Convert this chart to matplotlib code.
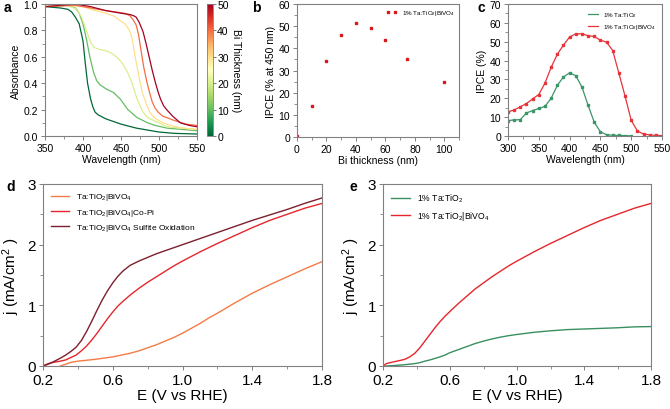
import numpy as np
import matplotlib
matplotlib.use("Agg")
import matplotlib.pyplot as plt
from matplotlib.ticker import MultipleLocator, AutoMinorLocator

plt.rcParams['font.family'] = ['Liberation Sans', 'DejaVu Sans']
plt.rcParams['mathtext.default'] = 'regular'

# ---- panel a: absorbance vs wavelength for several Bi thicknesses
bi_thick = [0, 10, 20, 30, 40, 50]
abs_wl = [
    [350, 370, 380, 385, 390, 395, 400, 403, 406, 410, 413, 416, 420, 425, 430, 440, 450, 460, 470, 480, 490, 500, 520, 550],
    [350, 380, 390, 395, 400, 405, 409, 414, 418, 422, 427, 431, 440, 449, 459, 465, 471, 478, 485, 495, 510, 550],
    [350, 380, 392, 398, 402, 405, 408, 411, 415, 422, 431, 438, 444, 449, 453, 458, 464, 470, 475, 479, 485, 492, 500, 510, 550],
    [350, 380, 400, 410, 430, 440, 445, 450, 455, 459, 462, 465, 468, 472, 475, 478, 481, 484, 488, 492, 496, 505, 515, 530, 550],
    [350, 390, 410, 430, 455, 462, 466, 470, 473, 476, 480, 484, 488, 491, 495, 499, 505, 510, 519, 535, 550],
    [350, 390, 410, 430, 450, 462, 467, 470, 474, 479, 483, 487, 491, 495, 499, 502, 506, 510, 518, 528, 540, 550],
]
abs_val = [
    [0.98, 0.97, 0.96, 0.94, 0.90, 0.85, 0.72, 0.55, 0.40, 0.28, 0.22, 0.18, 0.16, 0.145, 0.13, 0.11, 0.09, 0.075, 0.06, 0.05, 0.04, 0.03, 0.02, 0.015],
    [0.98, 0.99, 0.97, 0.93, 0.85, 0.72, 0.60, 0.48, 0.42, 0.39, 0.37, 0.355, 0.33, 0.28, 0.20, 0.17, 0.14, 0.12, 0.10, 0.08, 0.06, 0.04],
    [0.98, 0.99, 0.96, 0.90, 0.84, 0.79, 0.74, 0.70, 0.67, 0.655, 0.645, 0.625, 0.60, 0.57, 0.54, 0.49, 0.41, 0.30, 0.23, 0.18, 0.14, 0.12, 0.10, 0.07, 0.05],
    [0.98, 0.99, 0.98, 0.96, 0.93, 0.91, 0.89, 0.87, 0.85, 0.82, 0.79, 0.73, 0.62, 0.50, 0.41, 0.33, 0.28, 0.23, 0.18, 0.15, 0.13, 0.10, 0.08, 0.06, 0.05],
    [0.98, 0.99, 0.97, 0.95, 0.93, 0.91, 0.88, 0.84, 0.77, 0.66, 0.52, 0.41, 0.32, 0.26, 0.21, 0.18, 0.15, 0.14, 0.12, 0.09, 0.08],
    [0.98, 1.00, 0.98, 0.95, 0.93, 0.92, 0.91, 0.90, 0.86, 0.79, 0.70, 0.60, 0.50, 0.41, 0.33, 0.28, 0.23, 0.20, 0.15, 0.10, 0.08, 0.07],
]

# ---- panel b: IPCE at 450 nm vs Bi thickness
b_thick = [0, 10, 20, 30, 40, 50, 60, 75, 100]
b_ipce = [0.3, 14.0, 34.5, 46.0, 51.5, 49.2, 43.8, 35.3, 24.7]

# ---- panel c: IPCE spectra
c_wl = [300, 310, 320, 330, 340, 350, 360, 370, 380, 390, 400, 410, 420, 430, 440,
        450, 460, 470, 480, 490, 500, 510, 520, 530, 540, 550]
c_tio2 = [8.2, 8.5, 8.7, 12.2, 13.5, 14.6, 15.7, 20.0, 26.8, 31.3, 33.5, 32.0, 26.0, 16.3, 7.3,
          2.2, 0.7, 0.4, 0.3, 0.2, 0.1]
c_bivo4 = [12.8, 13.8, 15.5, 17.2, 19.7, 22.0, 28.0, 36.4, 43.3, 48.2, 52.5, 54.2, 54.2, 53.2, 52.8,
           50.8, 49.8, 45.3, 33.3, 21.2, 8.3, 2.7, 1.0, 0.6, 0.3, 0.2]

# ---- panel d: j-V curves
d_E_bare = [0.30, 0.33, 0.36, 0.40, 0.45, 0.50, 0.55, 0.60, 0.65, 0.70, 0.75, 0.80, 0.85, 0.90,
            0.95, 1.00, 1.05, 1.10, 1.15, 1.20, 1.30, 1.40, 1.50, 1.60, 1.70, 1.80]
d_bare = [0.0, 0.03, 0.06, 0.08, 0.095, 0.11, 0.13, 0.15, 0.18, 0.21, 0.25, 0.30, 0.35, 0.41,
          0.47, 0.54, 0.62, 0.70, 0.79, 0.87, 1.04, 1.20, 1.34, 1.47, 1.60, 1.72]
d_E = [0.20, 0.23, 0.26, 0.30, 0.33, 0.36, 0.39, 0.42, 0.45, 0.48, 0.51, 0.54, 0.57, 0.60, 0.63,
       0.66, 0.70, 0.75, 0.80, 0.85, 0.90, 0.95, 1.00, 1.10, 1.20, 1.30, 1.40, 1.50, 1.60, 1.70, 1.80]
d_copi = [0.0, 0.04, 0.06, 0.08, 0.10, 0.14, 0.18, 0.25, 0.33, 0.43, 0.54, 0.66, 0.78, 0.89, 0.99,
          1.07, 1.17, 1.28, 1.38, 1.47, 1.56, 1.65, 1.73, 1.88, 2.02, 2.15, 2.28, 2.40, 2.50, 2.60, 2.68]
d_sulfite = [0.0, 0.03, 0.07, 0.13, 0.18, 0.24, 0.31, 0.42, 0.57, 0.74, 0.92, 1.09, 1.24, 1.37, 1.48,
             1.57, 1.66, 1.73, 1.79, 1.85, 1.90, 1.95, 2.00, 2.10, 2.20, 2.30, 2.40, 2.49, 2.58, 2.68, 2.77]

# ---- panel e: j-V curves
e_E = [0.20, 0.22, 0.25, 0.30, 0.33, 0.36, 0.39, 0.42, 0.45, 0.48, 0.51, 0.54, 0.57, 0.60, 0.65,
       0.70, 0.75, 0.80, 0.85, 0.90, 0.95, 1.00, 1.10, 1.20, 1.30, 1.40, 1.50, 1.60, 1.70, 1.80]
e_tio2 = [0.0, 0.0, 0.005, 0.015, 0.022, 0.03, 0.04, 0.055, 0.08, 0.10, 0.125, 0.15, 0.18, 0.22, 0.27,
          0.32, 0.37, 0.41, 0.445, 0.475, 0.50, 0.52, 0.555, 0.58, 0.60, 0.61, 0.62, 0.63, 0.645, 0.65]
e_bivo4 = [0.0, 0.04, 0.06, 0.09, 0.11, 0.15, 0.21, 0.30, 0.41, 0.52, 0.63, 0.73, 0.82, 0.90, 1.03,
           1.15, 1.27, 1.37, 1.47, 1.56, 1.65, 1.73, 1.88, 2.02, 2.15, 2.28, 2.40, 2.50, 2.60, 2.68]

W, H = 670, 410


def box(l, t, r, b):
    return [l / W, 1 - b / H, (r - l) / W, (b - t) / H]


def style(ax, fs):
    for s in ax.spines.values():
        s.set_color('#808080')
        s.set_linewidth(0.8)
    ax.tick_params(which='both', direction='out', color='#808080', labelsize=fs, pad=2)
    ax.tick_params(which='major', length=3, width=0.7)
    ax.tick_params(which='minor', length=2, width=0.6)


fig = plt.figure(figsize=(6.7, 4.1), dpi=100)

# panel a
ax_a = fig.add_axes(box(45, 5, 197, 137))
cmap = plt.get_cmap('RdYlGn_r')
norm = plt.Normalize(0, 50)
for t, wl, v in zip(bi_thick, abs_wl, abs_val):
    ax_a.plot(wl, v, color=cmap(norm(t)), lw=0.9)
ax_a.set_xlim(350, 550)
ax_a.set_ylim(0, 1.0)
ax_a.xaxis.set_major_locator(MultipleLocator(50))
ax_a.xaxis.set_minor_locator(AutoMinorLocator(2))
ax_a.yaxis.set_major_locator(MultipleLocator(0.2))
ax_a.yaxis.set_minor_locator(AutoMinorLocator(2))
ax_a.set_xlabel('Wavelength (nm)', fontsize=7.5, labelpad=1)
ax_a.set_ylabel('Absorbance', fontsize=7.5, labelpad=2)
style(ax_a, 7.5)
cax = fig.add_axes(box(207, 5, 213, 137))
sm = plt.cm.ScalarMappable(norm=norm, cmap=cmap)
cb = fig.colorbar(sm, cax=cax, ticks=[0, 10, 20, 30, 40, 50])
cb.outline.set_edgecolor('#808080')
cb.outline.set_linewidth(0.6)
cb.ax.tick_params(labelsize=7.5, length=2, color='#808080', pad=1)
cb.set_label('Bi Thickness (nm)', fontsize=7.5, rotation=270, labelpad=9)

# panel b
ax_b = fig.add_axes(box(297, 5, 459, 138))
ax_b.plot(b_thick, b_ipce, 's', color='#d7191c', ms=1.8, ls='none',
          label='1% Ta:TiO$_2$|BiVO$_4$')
ax_b.set_xlim(0, 110)
ax_b.set_ylim(0, 60)
ax_b.set_xticks([0, 20, 40, 60, 80, 100])
ax_b.xaxis.set_minor_locator(MultipleLocator(10))
ax_b.yaxis.set_major_locator(MultipleLocator(10))
ax_b.yaxis.set_minor_locator(AutoMinorLocator(2))
ax_b.set_xlabel('Bi thickness (nm)', fontsize=7.5, labelpad=1)
ax_b.set_ylabel('IPCE (% at 450 nm)', fontsize=7.5, labelpad=2)
ax_b.legend(loc='upper right', fontsize=4.5, frameon=False, numpoints=2,
            handlelength=1.6, borderaxespad=0.3)
style(ax_b, 7.5)

# panel c
ax_c = fig.add_axes(box(508, 5, 662, 137))
ax_c.plot(c_wl[:len(c_tio2)], c_tio2, '-s', color='#3a9567', ms=1.8, lw=0.9,
          label='1% Ta:TiO$_2$')
ax_c.plot(c_wl, c_bivo4, '-s', color='#e8333b', ms=1.8, lw=0.9,
          label='1% Ta:TiO$_2$|BiVO$_4$')
ax_c.set_xlim(300, 550)
ax_c.set_ylim(0, 70)
ax_c.xaxis.set_major_locator(MultipleLocator(50))
ax_c.xaxis.set_minor_locator(AutoMinorLocator(2))
ax_c.yaxis.set_major_locator(MultipleLocator(10))
ax_c.yaxis.set_minor_locator(AutoMinorLocator(2))
ax_c.set_xlabel('Wavelength (nm)', fontsize=7.5, labelpad=1)
ax_c.set_ylabel('IPCE (%)', fontsize=7.5, labelpad=2)
ax_c.legend(loc='upper right', fontsize=4.5, frameon=False, markerscale=0,
            handlelength=1.6, borderaxespad=0.6)
style(ax_c, 7.5)

# panel d
ax_d = fig.add_axes(box(43, 185, 322, 367))
ax_d.plot(d_E_bare, d_bare, color='#f47b45', lw=1.0, label='Ta:TiO$_2$|BiVO$_4$')
ax_d.plot(d_E, d_copi, color='#e5262d', lw=1.0, label='Ta:TiO$_2$|BiVO$_4$|Co-Pi')
ax_d.plot(d_E, d_sulfite, color='#7c1f2e', lw=1.0,
          label='Ta:TiO$_2$|BiVO$_4$ Sulfite Oxidation')
ax_d.set_xlim(0.2, 1.8)
ax_d.set_ylim(0, 3)
ax_d.set_xticks([0.2, 0.6, 1.0, 1.4, 1.8])
ax_d.xaxis.set_minor_locator(MultipleLocator(0.2))
ax_d.yaxis.set_major_locator(MultipleLocator(1))
ax_d.yaxis.set_minor_locator(AutoMinorLocator(2))
ax_d.set_xlabel('E (V vs RHE)', fontsize=11, labelpad=1)
ax_d.set_ylabel('j (mA/cm$^2$ )', fontsize=11, labelpad=4)
ax_d.legend(loc='upper left', fontsize=6, frameon=False, handlelength=2.2,
            borderaxespad=0.5, labelspacing=0.5)
style(ax_d, 11)

# panel e
ax_e = fig.add_axes(box(383, 185, 651, 367))
ax_e.plot(e_E, e_tio2, color='#3a8f60', lw=1.0, label='1% Ta:TiO$_2$')
ax_e.plot(e_E, e_bivo4, color='#e5262d', lw=1.0, label='1% Ta:TiO$_2$|BiVO$_4$')
ax_e.set_xlim(0.2, 1.8)
ax_e.set_ylim(0, 3)
ax_e.set_xticks([0.2, 0.6, 1.0, 1.4, 1.8])
ax_e.xaxis.set_minor_locator(MultipleLocator(0.2))
ax_e.yaxis.set_major_locator(MultipleLocator(1))
ax_e.yaxis.set_minor_locator(AutoMinorLocator(2))
ax_e.set_xlabel('E (V vs RHE)', fontsize=11, labelpad=1)
ax_e.set_ylabel('j (mA/cm$^2$ )', fontsize=11, labelpad=4)
ax_e.legend(loc='upper left', fontsize=6.2, frameon=False, handlelength=2.2,
            borderaxespad=0.5)
style(ax_e, 11)

# panel letters
for lab, x, y in [('a', 4, 12), ('b', 252, 12), ('c', 478, 12), ('d', 6, 191), ('e', 350, 191)]:
    fig.text(x / W, 1 - y / H, lab, fontsize=10, fontweight='bold')

fig.savefig('out.png', dpi=100)
